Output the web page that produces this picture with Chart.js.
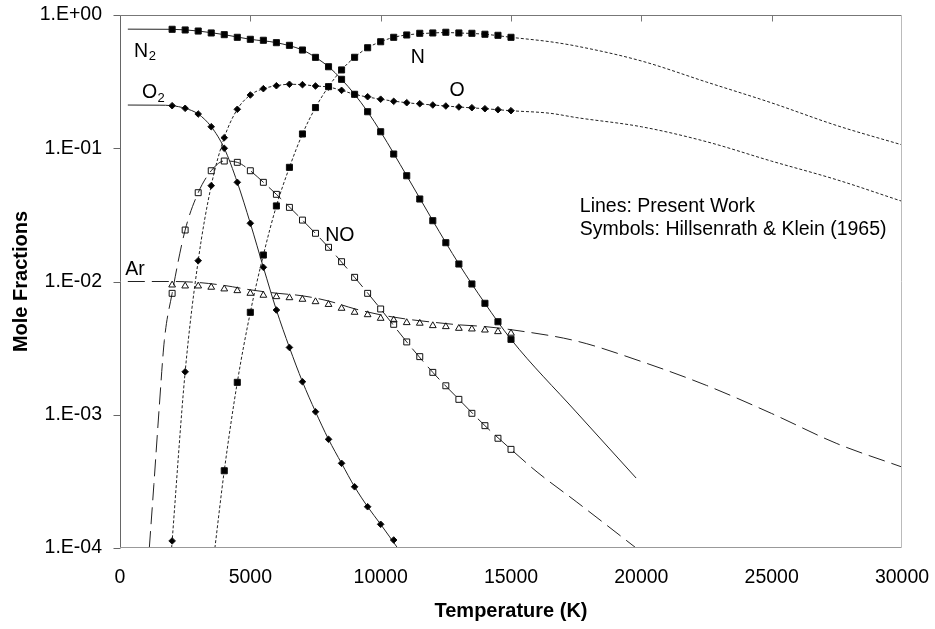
<!DOCTYPE html>
<html>
<head>
<meta charset="utf-8">
<script src="https://cdn.jsdelivr.net/npm/chart.js@4.4.0/dist/chart.umd.min.js"></script>
<style>
  body { margin: 0; background: #fff; }
  #wrap { width: 935px; height: 629px; }
</style>
</head>
<body>
<div id="wrap"><canvas id="chart" width="935" height="629"></canvas></div>
<script>
const FONT = "'Liberation Sans', Arial, sans-serif";

// axis ticks
const xTickValues = [0, 5000, 10000, 15000, 20000, 25000, 30000];
const xTickLabels = ["0", "5000", "10000", "15000", "20000", "25000", "30000"];
const yTickValues = [0.0001, 0.001, 0.01, 0.1, 1];
const yTickLabels = ["1.E-04", "1.E-03", "1.E-02", "1.E-01", "1.E+00"];

// symbols: Hillsenrath & Klein (1965), every 500 K
const symT = [2000, 2500, 3000, 3500, 4000, 4500, 5000, 5500, 6000, 6500, 7000, 7500, 8000, 8500,
  9000, 9500, 10000, 10500, 11000, 11500, 12000, 12500, 13000, 13500, 14000, 14500, 15000];
const n2Sym = [0.781, 0.772, 0.758, 0.733, 0.712, 0.680, 0.657, 0.646, 0.620, 0.592, 0.546, 0.481, 0.409, 0.329,
  0.254, 0.188, 0.133, 0.0905, 0.0622, 0.0416, 0.0286, 0.01955, 0.01353, 0.00958, 0.00686, 0.00499, 0.00368];
const o2Sym = [0.2086, 0.1994, 0.1807, 0.1451, 0.0999, 0.0555, 0.02734, 0.01278, 0.00611, 0.0032, 0.00177, 0.001054,
  0.000654, 0.000432, 0.000288, 0.000204, 0.0001506, 0.0001148, null, null, null, null, null, null, null, null, null];
const nSym = [null, null, null, null, 0.00038, 0.00175, 0.00587, 0.0158, 0.0369, 0.0719, 0.128, 0.202, 0.290, 0.387,
  0.4815, 0.568, 0.630, 0.680, 0.708, 0.729, 0.733, 0.742, 0.733, 0.729, 0.717, 0.704, 0.680];
const oSym = [0.000113, 0.0021, 0.01432, 0.0524, 0.120, 0.196, 0.251, 0.280, 0.2946, 0.302, 0.300, 0.2933, 0.288, 0.272,
  0.254, 0.2436, 0.2334, 0.225, 0.2197, 0.2159, 0.2112, 0.2075, 0.204, 0.2015, 0.198, 0.1946, 0.1913];
const noSym = [0.00815, 0.02434, 0.0464, 0.0678, 0.0802, 0.0784, 0.0678, 0.0555, 0.0451, 0.0360, 0.0289, 0.0230, 0.01806, 0.01408,
  0.01075, 0.00815, 0.00622, 0.00477, 0.00352, 0.00273, 0.00208, 0.00165, 0.001305, 0.001025, 0.000828, 0.000666, 0.00055];
const arSym = [0.00941, 0.00925, 0.00925, 0.00905, 0.00879, 0.00853, 0.00815, 0.00788, 0.00769, 0.00755, 0.00735, 0.00705, 0.00672, 0.00629,
  0.00587, 0.00563, 0.00529, 0.00514, 0.00491, 0.00486, 0.00466, 0.00458, 0.00445, 0.0044, 0.00432, 0.0042, 0.00409];

// lines: present work
const n2LineT = [300, 2000, 3000, 4000, 5000, 6000, 7000, 7500, 8000, 8500, 9000, 9500, 10000, 11000, 12000, 13000, 14000, 15000, 17500, 19800];
const n2Line = [0.783, 0.781, 0.758, 0.712, 0.657, 0.620, 0.546, 0.481, 0.409, 0.329, 0.254, 0.188, 0.133, 0.0622, 0.0286, 0.01353, 0.00686, 0.00368, 0.00105, 0.000335];
const o2LineT = [300, 1500, 2000, 2500, 3000, 3500, 4000, 4500, 5000, 5500, 6000, 6500, 7000, 7500, 8000, 8500, 9000, 9500, 10000, 10650];
const o2Line = [0.211, 0.2105, 0.2086, 0.1994, 0.1807, 0.1451, 0.0999, 0.0555, 0.02734, 0.01278, 0.00611, 0.0032, 0.00177, 0.001054,
  0.000654, 0.000432, 0.000288, 0.000204, 0.0001506, 0.0001];
const nLineT = [3640, 4000, 4500, 5000, 5500, 6000, 6500, 7000, 7500, 8000, 8500, 9000, 9500, 10000, 10500, 11000, 12000, 12500, 13000,
  14000, 15000, 16500, 17500, 20000, 22500, 25000, 27500, 30000];
const nLine = [0.0001, 0.00038, 0.00175, 0.00587, 0.0158, 0.0369, 0.0719, 0.128, 0.202, 0.290, 0.387, 0.4815, 0.568, 0.630, 0.680, 0.708,
  0.733, 0.738, 0.733, 0.717, 0.680, 0.630, 0.585, 0.452, 0.314, 0.219, 0.148, 0.106];
const oLineT = [1980, 2500, 3000, 3500, 4000, 4500, 5000, 5500, 6000, 6500, 7000, 7500, 8000, 8500, 9000, 10000, 11000, 12000, 13000,
  14000, 15000, 16500, 17500, 20000, 22500, 25000, 27500, 30000];
const oLine = [0.0001, 0.0021, 0.01432, 0.0524, 0.120, 0.196, 0.251, 0.280, 0.2946, 0.302, 0.300, 0.2933, 0.288, 0.272, 0.254, 0.2334,
  0.2197, 0.2112, 0.204, 0.198, 0.1913, 0.183, 0.170, 0.145, 0.112, 0.080, 0.058, 0.040];
const noLineT = [1125, 1300, 1500, 1700, 2000, 2500, 3000, 3500, 4000, 4500, 5000, 5500, 6000, 7000, 8000, 9000, 10000, 11000, 12000,
  13000, 14000, 15000, 16000, 17500, 19800];
const noLine = [0.0001, 0.0003, 0.0011, 0.0036, 0.00815, 0.02434, 0.0464, 0.0678, 0.0802, 0.0784, 0.0678, 0.0555, 0.0451, 0.0289,
  0.01806, 0.01075, 0.00622, 0.00352, 0.00208, 0.001305, 0.000828, 0.00055, 0.000372, 0.000223, 0.0001];
const arLineT = [300, 2000, 3000, 4000, 5000, 6000, 7000, 8000, 9000, 10000, 11000, 12000, 13000, 14000, 15000, 17500, 20000, 22500,
  25000, 27500, 30000];
const arLine = [0.0100, 0.0100, 0.00983, 0.00934, 0.00866, 0.00817, 0.00781, 0.00714, 0.00624, 0.00562, 0.00522, 0.00495, 0.00473,
  0.00459, 0.00435, 0.00358, 0.00251, 0.00166, 0.001022, 0.000608, 0.000405];

// text placed in data coordinates (left edge, baseline)
const notes = [
  { text: "N", sub: "2", t: 540, v: 0.486 },
  { text: "O", sub: "2", t: 840, v: 0.237 },
  { text: "N", t: 11150, v: 0.4386 },
  { text: "O", t: 12640, v: 0.2466 },
  { text: "NO", t: 7870, v: 0.02024 },
  { text: "Ar", t: 200, v: 0.01119 },
  { text: "Lines: Present Work", t: 17640, v: 0.03306 },
  { text: "Symbols: Hillsenrath & Klein (1965)", t: 17640, v: 0.02234 }
];

function pts(xs, ys) {
  return xs.map((x, i) => ({ x: x, y: ys[i] })).filter(p => p.y !== null);
}

function symbolSet(ys, style, radius, filled) {
  return {
    data: pts(symT, ys),
    showLine: false,
    pointStyle: style,
    pointRadius: radius,
    pointHoverRadius: radius,
    pointBorderWidth: 1,
    pointBorderColor: "#111",
    pointBackgroundColor: filled ? "#000" : "rgba(0,0,0,0)"
  };
}

function lineSet(xs, ys, dash) {
  return {
    data: pts(xs, ys),
    showLine: true,
    pointRadius: 0,
    pointHoverRadius: 0,
    borderColor: "#222",
    borderWidth: 1,
    borderDash: dash,
    cubicInterpolationMode: "monotone"
  };
}

const framePlugin = {
  id: "frame",
  afterDraw(chart) {
    const { ctx, chartArea: a, scales } = chart;
    const L = Math.round(a.left) + 0.5, R = Math.round(a.right) - 0.5;
    const T = Math.round(a.top) + 0.5, B = Math.round(a.bottom) - 0.5;
    ctx.save();
    ctx.lineWidth = 1;
    ctx.strokeStyle = "#777";
    ctx.beginPath(); ctx.moveTo(L, T); ctx.lineTo(R, T); ctx.stroke();
    ctx.strokeStyle = "#999";
    ctx.beginPath(); ctx.moveTo(L, B); ctx.lineTo(R, B); ctx.stroke();
    ctx.strokeStyle = "#bbb";
    ctx.beginPath(); ctx.moveTo(R, T); ctx.lineTo(R, B); ctx.stroke();
    ctx.strokeStyle = "#666";
    ctx.beginPath(); ctx.moveTo(L, T); ctx.lineTo(L, B); ctx.stroke();
    // y ticks, outside
    yTickValues.forEach(v => {
      const y = Math.round(scales.y.getPixelForValue(v)) + 0.5;
      ctx.beginPath(); ctx.moveTo(L - 7, y); ctx.lineTo(L, y); ctx.stroke();
    });
    // x ticks along the top, pointing down
    ctx.strokeStyle = "#777";
    xTickValues.slice(1, -1).forEach(v => {
      const x = Math.round(scales.x.getPixelForValue(v)) + 0.5;
      ctx.beginPath(); ctx.moveTo(x, T); ctx.lineTo(x, T + 6); ctx.stroke();
    });
    // labels
    ctx.fillStyle = "#000";
    ctx.textBaseline = "alphabetic";
    ctx.textAlign = "left";
    notes.forEach(n => {
      const x = scales.x.getPixelForValue(n.t);
      const y = scales.y.getPixelForValue(n.v);
      ctx.font = "19.5px " + FONT;
      ctx.fillText(n.text, x, y);
      if (n.sub) {
        const w = ctx.measureText(n.text).width;
        ctx.font = "13px " + FONT;
        ctx.fillText(n.sub, x + w + 0.5, y + 3.5);
      }
    });
    ctx.restore();
  }
};

Chart.defaults.font.family = FONT;
Chart.defaults.color = "#000";

new Chart(document.getElementById("chart"), {
  type: "scatter",
  data: {
    datasets: [
      symbolSet(n2Sym, "rect", 4.3, true),
      symbolSet(nSym, "rect", 4.3, true),
      symbolSet(o2Sym, "rectRot", 3.3, true),
      symbolSet(oSym, "rectRot", 3.3, true),
      symbolSet(noSym, "rect", 4.2, false),
      symbolSet(arSym, "triangle", 3.9, false),
      lineSet(n2LineT, n2Line, []),
      lineSet(o2LineT, o2Line, []),
      lineSet(nLineT, nLine, [3, 2]),
      lineSet(oLineT, oLine, [3, 2]),
      lineSet(noLineT, noLine, [17, 7]),
      lineSet(arLineT, arLine, [17, 7])
    ]
  },
  options: {
    responsive: false,
    devicePixelRatio: 1,
    animation: false,
    events: [],
    layout: { padding: { left: 0, top: 15, right: 33, bottom: 0 } },
    plugins: { legend: { display: false }, tooltip: { enabled: false } },
    scales: {
      x: {
        type: "linear",
        min: 0,
        max: 30000,
        grid: { display: false, drawTicks: false },
        border: { display: false },
        afterBuildTicks: s => { s.ticks = xTickValues.map(v => ({ value: v })); },
        afterFit: s => { s.height = 81; s.paddingLeft = 0; s.paddingRight = 0; },
        ticks: {
          padding: 18,
          maxRotation: 0,
          autoSkip: false,
          font: { size: 19.5 },
          callback: (v, i) => xTickLabels[i]
        },
        title: {
          display: true,
          text: "Temperature (K)",
          font: { size: 20, weight: "bold" },
          padding: { top: 0, bottom: 6 }
        }
      },
      y: {
        type: "logarithmic",
        min: 0.0001,
        max: 1,
        grid: { display: false, drawTicks: false },
        border: { display: false },
        afterBuildTicks: s => { s.ticks = yTickValues.map(v => ({ value: v })); },
        afterFit: s => { s.width = 120; s.paddingTop = 0; s.paddingBottom = 0; },
        ticks: {
          padding: 18,
          autoSkip: false,
          font: { size: 19.5 },
          callback: (v, i) => yTickLabels[i]
        },
        title: {
          display: true,
          text: "Mole Fractions",
          font: { size: 20, weight: "bold" },
          padding: { top: 9, bottom: 0 }
        }
      }
    }
  },
  plugins: [framePlugin]
});
</script>
</body>
</html>
